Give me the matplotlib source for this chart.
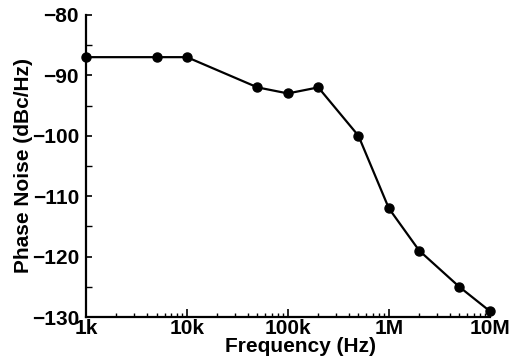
import matplotlib.pyplot as plt
from matplotlib.ticker import FixedLocator, FuncFormatter, LogLocator, MultipleLocator

# data
freq_hz = [1e3, 5e3, 1e4, 5e4, 1e5, 2e5, 5e5, 1e6, 2e6, 5e6, 1e7]
noise_dbc = [-87, -87, -87, -92, -93, -92, -100, -112, -119, -125, -129]

x_ticks = [1e3, 1e4, 1e5, 1e6, 1e7]
x_tick_labels = ["1k", "10k", "100k", "1M", "10M"]

plt.rcParams["font.family"] = ["Liberation Sans", "DejaVu Sans"]
plt.rcParams["font.weight"] = "bold"

fig = plt.figure(figsize=(5.15, 3.62), dpi=100)
ax = fig.add_axes([0.167, 0.124, 0.784, 0.835])

ax.plot(freq_hz, noise_dbc, color="black", lw=1.6, marker="o", ms=6.5,
        clip_on=False, zorder=3)

ax.set_xscale("log")
ax.set_xlim(1e3, 1e7)
ax.set_ylim(-130, -80)

ax.xaxis.set_major_locator(FixedLocator(x_ticks))
ax.xaxis.set_major_formatter(FuncFormatter(lambda v, p: x_tick_labels[x_ticks.index(v)] if v in x_ticks else ""))
ax.xaxis.set_minor_locator(LogLocator(base=10, subs=range(2, 10)))
ax.yaxis.set_major_locator(MultipleLocator(10))
ax.yaxis.set_minor_locator(MultipleLocator(5))
ax.yaxis.set_major_formatter(FuncFormatter(lambda v, p: f"\u2212{abs(int(v))}"))

for side in ["top", "right"]:
    ax.spines[side].set_visible(False)
for side in ["left", "bottom"]:
    ax.spines[side].set_linewidth(1.6)

ax.tick_params(axis="x", which="major", direction="in", length=6, width=1.2, pad=1, labelsize=15)
ax.tick_params(axis="x", which="minor", direction="in", length=3, width=1.0)
ax.tick_params(axis="y", which="major", direction="in", length=4, width=1.2, pad=5, labelsize=15)
ax.tick_params(axis="y", which="minor", direction="in", length=4, width=1.0)

ax.set_xlabel("Frequency (Hz)", fontsize=15, fontweight="bold")
ax.xaxis.set_label_coords(0.532, -0.065)
ax.set_ylabel("Phase Noise (dBc/Hz)", fontsize=15, fontweight="bold")
ax.yaxis.set_label_coords(-0.131, 0.5)

fig.savefig("out.png", dpi=100)
